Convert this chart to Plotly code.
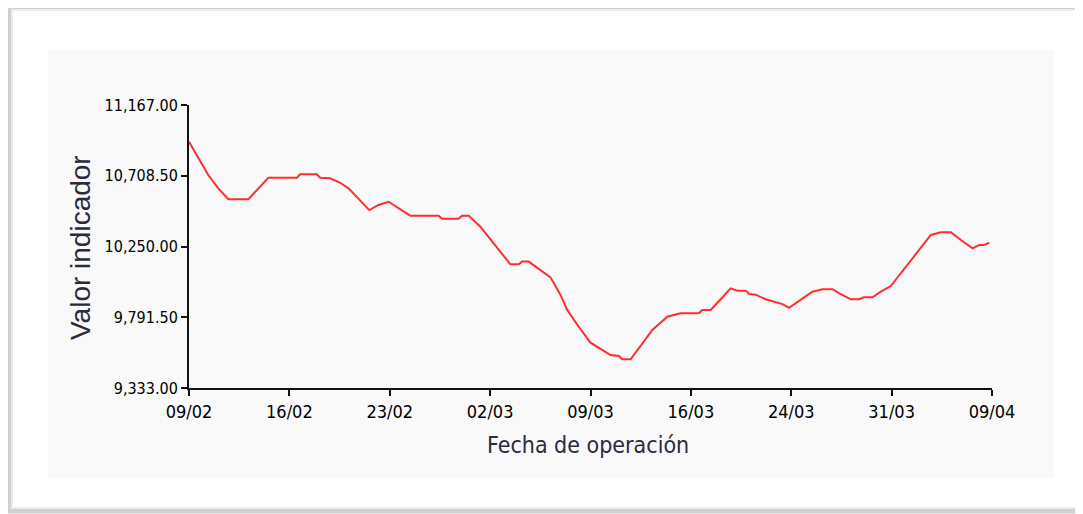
import plotly.graph_objects as go

# Data: position along the x axis in calendar days from 09/02, and indicator value
days = [0.00, 1.44, 2.19, 2.94, 4.44, 5.18, 5.93, 8.06, 8.30, 9.55, 9.80, 10.55, 11.30, 11.92,
        13.47, 14.16, 14.91, 16.53, 18.65, 18.90, 20.15, 20.40, 20.90, 21.77, 23.14, 24.01,
        24.64, 24.89, 25.38, 26.26, 27.01, 27.76, 28.26, 29.12, 30.00, 31.50, 32.12, 32.37,
        33.00, 34.62, 35.74, 36.73, 38.10, 38.36, 38.98, 39.73, 40.47, 40.97, 41.60, 41.85,
        42.34, 43.09, 43.71, 44.34, 44.83, 45.71, 46.58, 47.33, 48.08, 48.70, 49.45, 50.07,
        50.44, 51.07, 51.69, 52.44, 55.43, 56.18, 56.93, 57.68, 58.55, 59.05, 59.42, 59.80]
values = [10929, 10713, 10627, 10556, 10556, 10627, 10696, 10696, 10718, 10718, 10696, 10692,
          10663, 10627, 10486, 10519, 10540, 10450, 10450, 10430, 10430, 10450, 10450, 10378,
          10227, 10135, 10135, 10152, 10152, 10098, 10050, 9936, 9839, 9730, 9627, 9547, 9540,
          9519, 9519, 9709, 9795, 9817, 9817, 9839, 9839, 9908, 9979, 9964, 9964, 9942, 9938,
          9908, 9892, 9877, 9853, 9903, 9957, 9973, 9973, 9942, 9908, 9908, 9921, 9921, 9957,
          9994, 10325, 10342, 10342, 10292, 10238, 10260, 10260, 10275]

x_tick_pos = [0, 7.5, 15, 22.5, 30, 37.5, 45, 52.5, 60]
x_tick_labels = ["09/02", "16/02", "23/02", "02/03", "09/03", "16/03", "24/03", "31/03", "09/04"]
y_ticks = [9333.0, 9791.5, 10250.0, 10708.5, 11167.0]

narrow = "DejaVu Sans Condensed, Liberation Sans Narrow, Arial Narrow, sans-serif"
regular = "Liberation Sans, Arial, sans-serif"

fig = go.Figure()
fig.add_trace(go.Scatter(x=days, y=values, mode="lines",
                         line=dict(color="#ff2e2e", width=2), hoverinfo="x+y"))

# the page body adds an 8 px offset; figure coordinates below are page px minus 8
OFF = 8
L, R, T, B = 189 - OFF, 992 - OFF, 105 - OFF, 388 - OFF
W, H = 1083 - OFF, 514 - OFF
def px(x):
    return (x - OFF - L) / (R - L)
def py(y):
    return (B - (y - OFF)) / (B - T)

shapes = [
    # outer frame with soft shadow
    dict(type="rect", xref="paper", yref="paper", x0=px(9), x1=px(1110), y0=py(511), y1=py(7),
         line=dict(color="#d0d0d0", width=5), fillcolor="white", layer="below"),
    dict(type="rect", xref="paper", yref="paper", x0=px(12), x1=px(1110), y0=py(508), y1=py(10),
         line=dict(color="#ececec", width=2), fillcolor="white", layer="below"),
    # inner light panel
    dict(type="rect", xref="paper", yref="paper", x0=px(48), x1=px(1054), y0=py(478), y1=py(50),
         line=dict(width=0), fillcolor="#f9f9f9", layer="below"),
]

fig.update_layout(
    width=W, height=H, autosize=False,
    margin=dict(l=L, r=W - R, t=T, b=H - B, pad=0),
    paper_bgcolor="white", plot_bgcolor="rgba(0,0,0,0)",
    showlegend=False,
    shapes=shapes,
    xaxis=dict(range=[0, 60], tickmode="array", tickvals=x_tick_pos, ticktext=x_tick_labels,
               showgrid=False, zeroline=False, showline=True, linecolor="#111", linewidth=2,
               ticks="outside", ticklen=6, tickwidth=2, tickcolor="#111",
               tickfont=dict(family=narrow, size=18, color="#000")),
    yaxis=dict(range=[9333, 11167], tickmode="array", tickvals=y_ticks, tickformat=",.2f",
               showgrid=False, zeroline=False, showline=True, linecolor="#111", linewidth=2,
               ticks="outside", ticklen=6, tickwidth=2, tickcolor="#111",
               tickfont=dict(family=narrow, size=16, color="#000")),
    annotations=[
        dict(text="Fecha de operación", xref="paper", yref="paper", x=px(588), y=py(445),
             showarrow=False, xanchor="center", yanchor="middle",
             font=dict(family=narrow, size=23, color="#2b2b3b")),
        dict(text="Valor indicador", xref="paper", yref="paper", x=px(80), y=py(248),
             showarrow=False, xanchor="center", yanchor="middle", textangle=-90,
             font=dict(family=regular, size=28, color="#2b2b3b")),
    ],
)

fig.write_html("out.html")
